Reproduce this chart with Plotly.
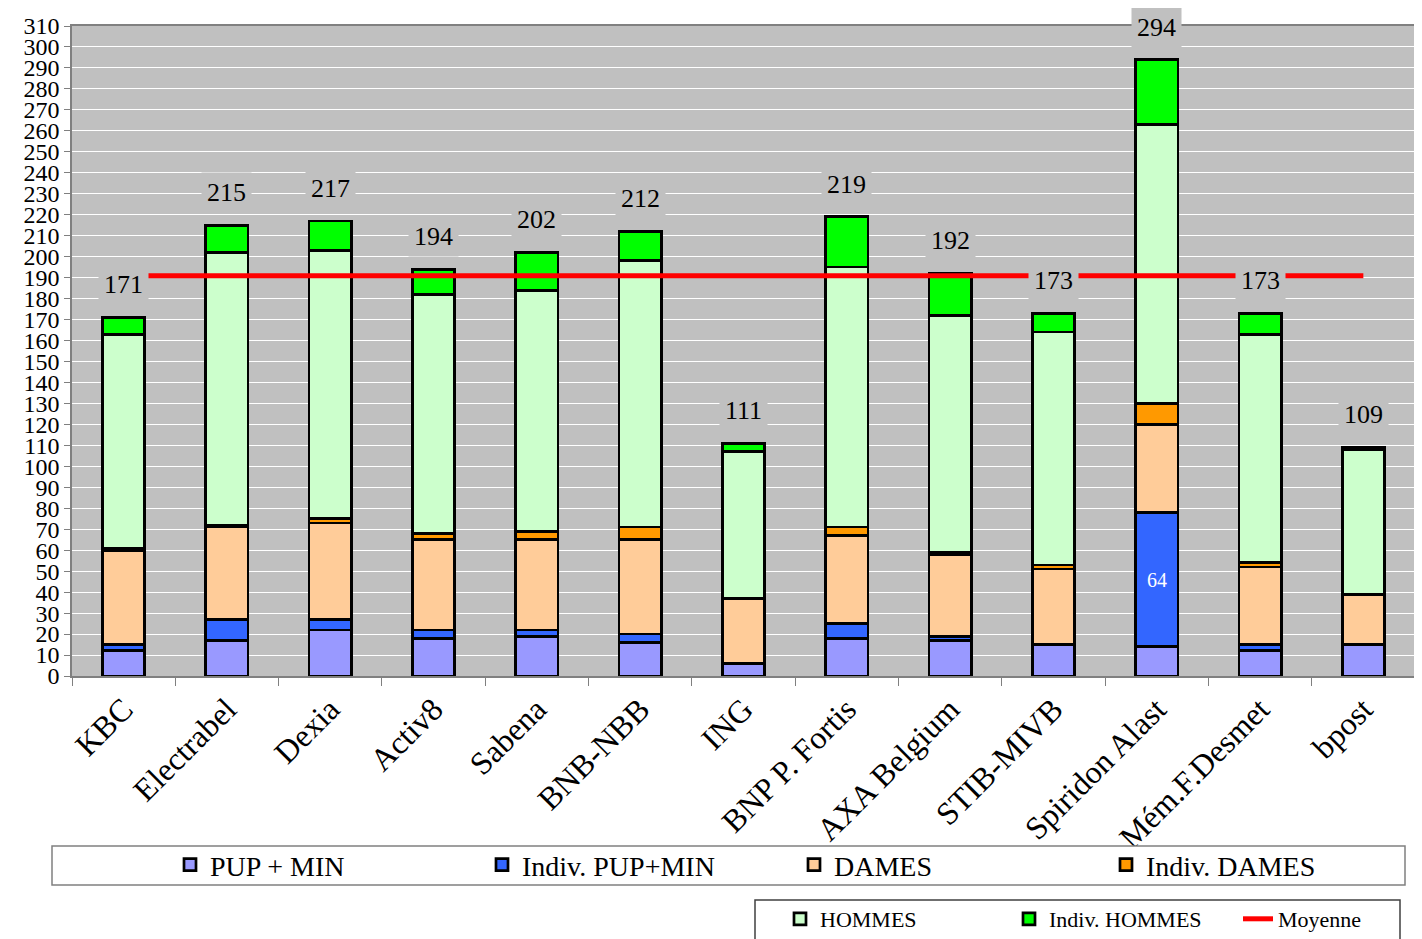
import plotly.graph_objects as go

categories = ["KBC", "Electrabel", "Dexia", "Activ8", "Sabena", "BNB-NBB", "ING",
              "BNP P. Fortis", "AXA Belgium", "STIB-MIVB", "Spiridon Alast",
              "Mém.F.Desmet", "bpost"]
pup_min = [12, 17, 22, 18, 19, 16, 6, 18, 17, 15, 14, 12, 15]
indiv_pup_min = [3, 10, 5, 4, 3, 4, 0, 7, 2, 0, 64, 3, 0]
dames = [45, 44, 46, 43, 43, 45, 31, 42, 39, 36, 42, 37, 24]
indiv_dames = [1, 1, 2, 3, 4, 6, 0, 4, 1, 2, 10, 2, 0]
hommes = [102, 130, 128, 114, 115, 127, 70, 124, 113, 111, 133, 109, 69]
indiv_hommes = [8, 13, 14, 12, 18, 14, 4, 24, 20, 9, 31, 10, 1]
totals = [171, 215, 217, 194, 202, 212, 111, 219, 192, 173, 294, 173, 109]
moyenne = 190.9

FONT = "Liberation Serif, Times New Roman, serif"

series = [
    ("PUP + MIN", pup_min, "#9999FF", "legend"),
    ("Indiv. PUP+MIN", indiv_pup_min, "#3366FF", "legend"),
    ("DAMES", dames, "#FFCC99", "legend"),
    ("Indiv. DAMES", indiv_dames, "#FF9900", "legend"),
    ("HOMMES", hommes, "#CCFFCC", "legend2"),
    ("Indiv. HOMMES", indiv_hommes, "#00FF00", "legend2"),
]

fig = go.Figure()
for name, vals, color, lg in series:
    fig.add_trace(go.Bar(
        x=categories, y=vals, name=name, legend=lg,
        marker=dict(color=color, line=dict(color="black", width=2.7)),
        hoverinfo="name+y",
    ))

fig.add_trace(go.Scatter(
    x=categories, y=[moyenne] * len(categories), name="Moyenne", legend="legend2",
    mode="lines", line=dict(color="#FF0000", width=5),
))

annotations = []
for c, t in zip(categories, totals):
    annotations.append(dict(
        x=c, y=t + 15.5, xref="x", yref="y", text=str(t), showarrow=False,
        font=dict(family=FONT, size=26, color="black"),
        bgcolor="#C0C0C0", borderpad=5,
    ))
sp = categories.index("Spiridon Alast")
annotations.append(dict(
    x=categories[sp], y=pup_min[sp] + indiv_pup_min[sp] / 2, xref="x", yref="y",
    text=str(indiv_pup_min[sp]), showarrow=False,
    font=dict(family=FONT, size=20, color="white"),
))

# page body has an 8px margin: work in screen coordinates, offset by 8
OFF = 8
W, H = 1422 - OFF, 939 - OFF
L, R, T, B = 72 - OFF, 7, 26 - OFF, 263
pw, ph = W - L - R, H - T - B


def px(xs):
    return (xs - OFF - L) / pw


def py(ys):
    return (H - B - (ys - OFF)) / ph


shapes = [
    dict(type="rect", xref="paper", yref="paper",
         x0=px(52), x1=px(1405), y0=py(846), y1=py(885),
         line=dict(color="#808080", width=1.5), fillcolor="white", layer="above"),
    dict(type="rect", xref="paper", yref="paper",
         x0=px(755), x1=px(1400), y0=py(900), y1=py(960),
         line=dict(color="#404040", width=1.5), fillcolor="white", layer="above"),
]

fig.update_layout(
    width=W, height=H,
    margin=dict(l=L, r=R, t=T, b=B, pad=0, autoexpand=False),
    paper_bgcolor="white", plot_bgcolor="#C0C0C0",
    barmode="stack", bargap=0.59,
    font=dict(family=FONT, color="black"),
    annotations=annotations,
    shapes=shapes,
    legend=dict(orientation="h", x=px(170), xanchor="left", y=py(865), yanchor="middle",
                font=dict(family=FONT, size=28), bgcolor="rgba(0,0,0,0)", borderwidth=0,
                entrywidth=267, entrywidthmode="pixels", traceorder="normal"),
    legend2=dict(orientation="h", x=px(780), xanchor="left", y=py(919), yanchor="middle",
                 font=dict(family=FONT, size=22), bgcolor="rgba(0,0,0,0)", borderwidth=0,
                 entrywidth=184, entrywidthmode="pixels", traceorder="normal"),
    xaxis=dict(type="category", tickangle=-45, tickson="boundaries",
               ticks="outside", ticklen=8, tickcolor="#808080",
               showline=True, linecolor="#808080", linewidth=1.5, mirror=True,
               showgrid=False, tickfont=dict(family=FONT, size=32)),
    yaxis=dict(range=[0, 310], dtick=10, tick0=0,
               ticks="outside", ticklen=6, tickcolor="#808080",
               showline=True, linecolor="#808080", linewidth=1.5, mirror=True,
               gridcolor="white", gridwidth=1, zeroline=False,
               tickfont=dict(family=FONT, size=24)),
)

fig.write_html("out.html")
